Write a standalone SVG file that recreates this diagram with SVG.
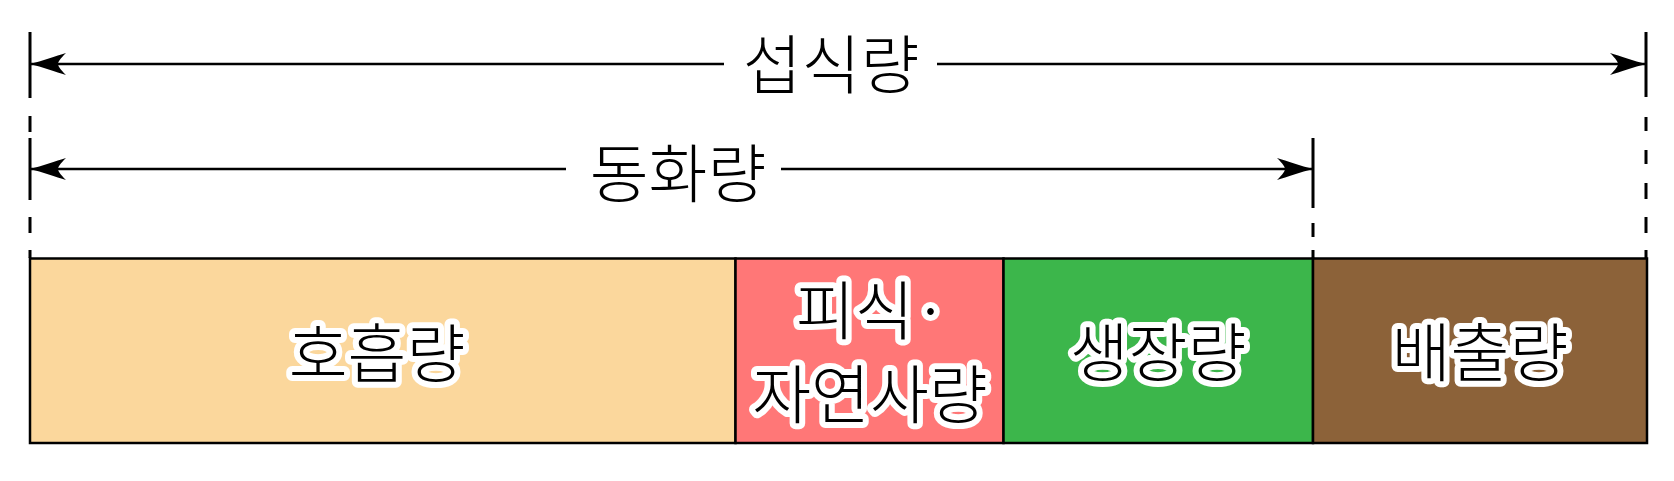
<svg xmlns="http://www.w3.org/2000/svg" width="1674" height="481" viewBox="0 0 1674 481">
<style>
.t{font-family:"Noto Sans CJK KR","Noto Sans",sans-serif;font-size:64px;font-weight:300;fill:#000;text-anchor:middle}
.h{stroke:#fff;stroke-width:12;stroke-linejoin:round;paint-order:stroke}
.ln{stroke:#000;stroke-width:2.5;fill:none}
.tk{stroke:#000;stroke-width:3;fill:none}
.box{stroke:#000;stroke-width:2.5}
</style>
<defs>
<marker id="ar" markerUnits="userSpaceOnUse" viewBox="-40 -13 42 26" markerWidth="42" markerHeight="26" refX="0" refY="0" orient="auto-start-reverse">
<path d="M0,0 C-12,-3 -26,-8 -36,-11 C-30,-5 -28,-2 -28,0 C-28,2 -30,5 -36,11 C-26,8 -12,3 0,0 Z" fill="#000"/>
</marker>
</defs>
<g id="connectors">
<line class="ln" x1="30" y1="64" x2="724" y2="64" marker-start="url(#ar)"/>
<line class="ln" x1="937" y1="64" x2="1646" y2="64" marker-end="url(#ar)"/>
<line class="ln" x1="30" y1="169" x2="566" y2="169" marker-start="url(#ar)"/>
<line class="ln" x1="781" y1="169" x2="1313" y2="169" marker-end="url(#ar)"/>
<path class="tk" d="M30,32V98M30,116V132M30,138V200M30,217V233M30,250V258"/>
<path class="tk" d="M1646,32V97M1646,117V131M1646,150V164M1646,183V199M1646,217V233M1646,250V258"/>
<path class="tk" d="M1313,138V208M1313,223V237M1313,250V258"/>
</g>
<g id="label-intake"><text class="t" x="831" y="88">섭식량</text></g>
<g id="label-assim"><text class="t" x="678" y="197">동화량</text></g>
<g id="box-resp">
<rect class="box" x="30" y="258.5" width="705.5" height="184.5" fill="#fbd79c"/>
<text class="t h" x="377" y="377">호흡량</text>
</g>
<g id="box-pred">
<rect class="box" x="735.5" y="258.5" width="268" height="184.5" fill="#ff7777"/>
<text class="t h" x="872" y="334">피식·</text>
<text class="t h" x="870" y="418">자연사량</text>
</g>
<g id="box-growth">
<rect class="box" x="1003.5" y="258.5" width="309.5" height="184.5" fill="#3cb64b"/>
<text class="t h" x="1158" y="376">생장량</text>
</g>
<g id="box-egest">
<rect class="box" x="1313" y="258.5" width="334" height="184.5" fill="#8c6239"/>
<text class="t h" x="1480" y="376">배출량</text>
</g>
</svg>
